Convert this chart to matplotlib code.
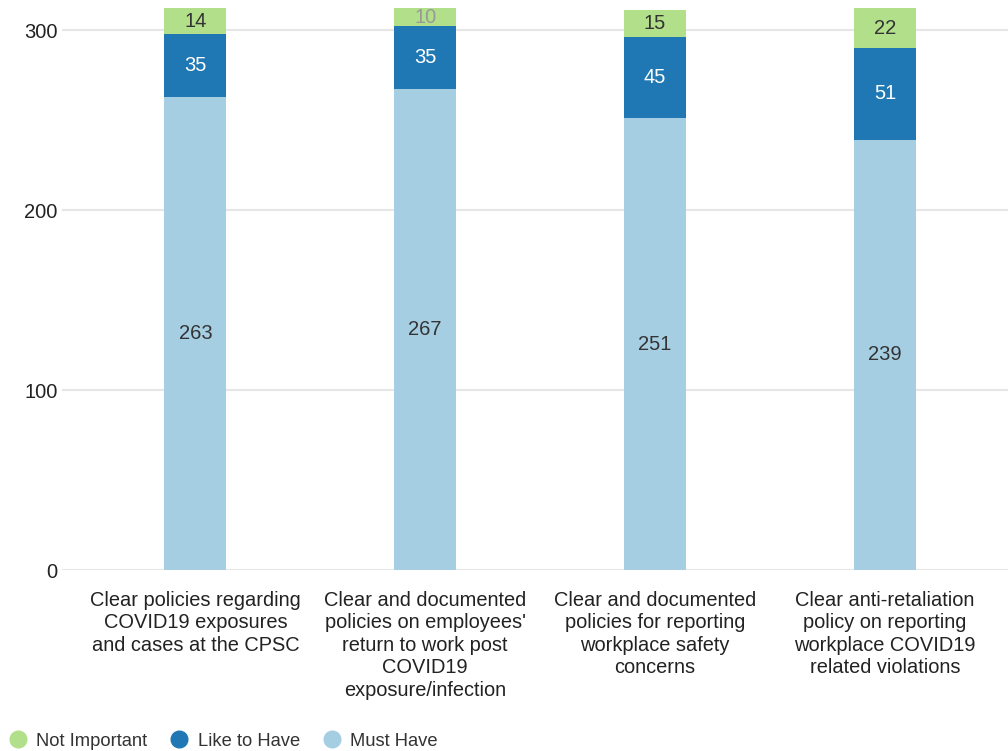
import numpy as np
import matplotlib.pyplot as plt
from matplotlib.lines import Line2D

plt.rcParams['font.family'] = ['Liberation Sans', 'DejaVu Sans']

categories = [
    "Clear policies regarding\nCOVID19 exposures\nand cases at the CPSC",
    "Clear and documented\npolicies on employees'\nreturn to work post\nCOVID19\nexposure/infection",
    "Clear and documented\npolicies for reporting\nworkplace safety\nconcerns",
    "Clear anti-retaliation\npolicy on reporting\nworkplace COVID19\nrelated violations",
]
must_have = [263, 267, 251, 239]
like_to_have = [35, 35, 45, 51]
not_important = [14, 10, 15, 22]

series = [
    ("Must Have", must_have, "#a6cee3", "#333333"),
    ("Like to Have", like_to_have, "#1f78b4", "white"),
    ("Not Important", not_important, "#b2df8a", "#333333"),
]

fig = plt.figure(figsize=(10.08, 7.51), dpi=100)
ax = fig.add_axes([62 / 1008, 1 - 570 / 751, 1 - 62 / 1008, (570 - 7) / 751])

x = np.arange(len(categories))
bottom = np.zeros(len(categories))
for name, vals, color, txt in series:
    vals = np.array(vals)
    ax.bar(x, vals, width=0.27, bottom=bottom, color=color, zorder=2)
    for xi, b, v in zip(x, bottom, vals):
        # small top segment label gets a muted grey
        c = "#999999" if (name == "Not Important" and v < 12) else txt
        ax.text(xi, b + v / 2, str(v), ha="center", va="center",
                fontsize=14.5, color=c, zorder=3)
    bottom += vals

ax.set_xlim(-0.58, 3.535)
ax.set_ylim(0, 312.8)
ax.set_yticks([0, 100, 200, 300])
ax.yaxis.grid(True, color="#e6e6e6", linewidth=1.5, zorder=0)
ax.set_axisbelow(True)
for s in ax.spines.values():
    s.set_visible(False)
ax.tick_params(axis="both", length=0, colors="#222222")
ax.tick_params(axis="y", pad=3, labelsize=14.5)
ax.tick_params(axis="x", pad=15, labelsize=14.4)
ax.set_xticks(x)
ax.set_xticklabels(categories, linespacing=1.23)

handles = [Line2D([], [], marker="o", linestyle="", markersize=12, color=c)
           for c in ["#b2df8a", "#1f78b4", "#a6cee3"]]
fig.legend(handles, ["Not Important", "Like to Have", "Must Have"],
           loc="lower left", bbox_to_anchor=(-0.017, -0.02), ncol=3,
           frameon=False, fontsize=13.2, handletextpad=0.0,
           columnspacing=0.75, labelcolor="#333333")

fig.savefig("out.png", dpi=100)
